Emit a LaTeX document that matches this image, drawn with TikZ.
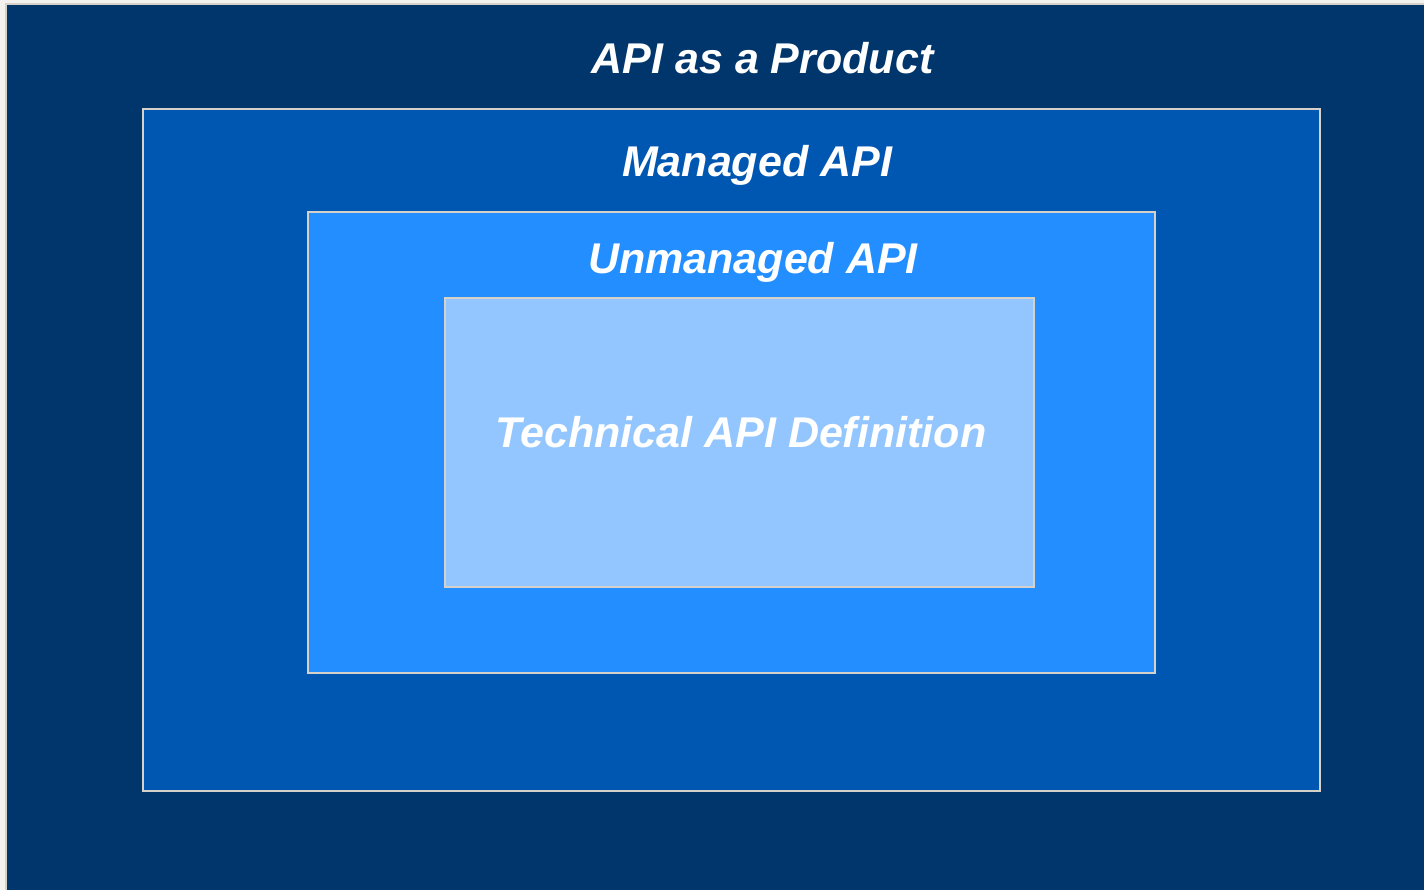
\documentclass[tikz,border=0pt]{standalone}
\usepackage{fontspec}
\setmainfont{Liberation Sans}
\definecolor{bgpage}{HTML}{F4F2EE}
\definecolor{edge}{HTML}{D6D2CA}
\definecolor{darkblue}{HTML}{00366C}
\definecolor{midblue}{HTML}{0057B2}
\definecolor{brightblue}{HTML}{228EFF}
\definecolor{paleblue}{HTML}{93C6FE}
\tikzset{
  layer/.style={draw=edge, line width=2pt},
  caption/.style={text=white, font=\fontsize{43}{49}\selectfont\bfseries\itshape, inner sep=0pt, anchor=base}
}
\begin{document}
\begin{tikzpicture}[x=1pt, y=-1pt]
  \useasboundingbox (0,0) rectangle (1424,890);
  \fill[bgpage] (0,0) rectangle (1424,890);
  % nested layers, outermost first
  \draw[layer, fill=darkblue] (6,4) rectangle (1430,896);
  \draw[layer, fill=midblue] (142.5,109.5) rectangle (1320,790.5);
  \draw[layer, fill=brightblue] (307.5,212.5) rectangle (1154.5,672.5);
  \draw[layer, fill=paleblue] (444.5,298.5) rectangle (1033.5,586.5);
  % layer captions
  \node[caption] (product) at (762.5,74) {API as a Product};
  \node[caption] (managed) at (757,177) {Managed API};
  \node[caption] (unmanaged) at (753,274) {Unmanaged API};
  \node[caption] (technical) at (741,447) {Technical API Definition};
\end{tikzpicture}
\end{document}
